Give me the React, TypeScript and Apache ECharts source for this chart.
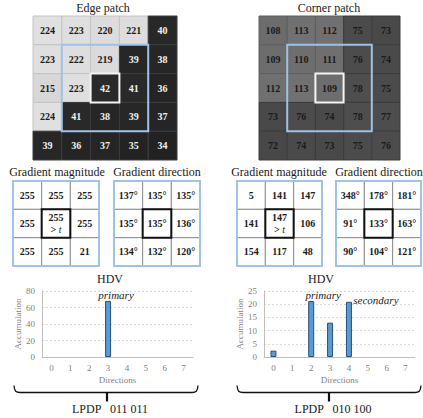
import React, { useEffect, useRef } from "react";
import * as echarts from "echarts";

// ---------- data ----------
const patchTitles = ["Edge patch", "Corner patch"];
const edgePatch = [
  [224, 223, 220, 221, 40],
  [223, 222, 219, 39, 38],
  [215, 223, 42, 41, 36],
  [224, 41, 38, 39, 37],
  [39, 36, 37, 35, 34],
];
const cornerPatch = [
  [108, 113, 112, 75, 73],
  [109, 110, 111, 76, 74],
  [112, 113, 109, 78, 75],
  [73, 76, 74, 78, 77],
  [72, 74, 73, 75, 76],
];
const tableTitles = ["Gradient magnitude", "Gradient direction"];
const edgeMagnitude = [
  [255, 255, 255],
  [255, 255, 255],
  [255, 255, 21],
];
const edgeDirection = [
  [137, 135, 135],
  [135, 135, 136],
  [134, 132, 120],
];
const cornerMagnitude = [
  [5, 141, 147],
  [141, 147, 106],
  [154, 117, 48],
];
const cornerDirection = [
  [348, 178, 181],
  [91, 133, 163],
  [90, 104, 121],
];
const directions = ["0", "1", "2", "3", "4", "5", "6", "7"];
const edgeHdv = [0, 0, 0, 68, 0, 0, 0, 0];
const cornerHdv = [2.4, 0, 21.2, 13, 20.9, 0, 0, 0];
const edgePeaks: Record<number, string> = { 3: "primary" };
const cornerPeaks: Record<number, string> = { 2: "primary", 4: "secondary" };
const hdvTitle = "HDV";
const yName = "Accumulation";
const xName = "Directions";
const lpdpCodes = ["011 011", "010 100"];
const edgeYMax = 80;
const edgeYStep = 20;
const cornerYMax = 25;
const cornerYStep = 5;

// ---------- layout ----------
const SERIF = "'Liberation Serif', 'DejaVu Serif', serif";
const patchGrids = [
  { left: 33, top: 16, width: 144, height: 144 },
  { left: 259, top: 16, width: 141, height: 144 },
];
const tableGrids = [
  { left: 13, top: 181, width: 86, height: 85 },
  { left: 114, top: 181, width: 86, height: 85 },
  { left: 237, top: 181, width: 85, height: 85 },
  { left: 336, top: 181, width: 85, height: 85 },
];
const barGrids = [
  { left: 42, top: 291, width: 151, height: 66 },
  { left: 264, top: 291, width: 151, height: 66 },
];

const toCells = (m: number[][]) =>
  m.flatMap((r, ri) => r.map((v, ci) => [ci, ri, v]));

const patchRender = (isEdge: boolean) => (params: any, api: any) => {
  const col = api.value(0);
  const row = api.value(1);
  const v = api.value(2);
  const c = api.coord([col, row]);
  const s = api.size([1, 1]);
  const w = s[0];
  const h = s[1];
  const children: any[] = [
    {
      type: "rect",
      shape: { x: c[0] - w / 2, y: c[1] - h / 2, width: w, height: h },
      style: {
        fill: `rgb(${v},${v},${v})`,
        stroke: v > 150 ? "#c4c4c4" : v > 90 ? "#5e5e5e" : "#3c3c3c",
        lineWidth: 1,
      },
    },
    {
      type: "text",
      style: {
        text: String(v),
        x: c[0],
        y: c[1],
        align: "center",
        verticalAlign: "middle",
        fill: isEdge && v < 128 ? "#f2f2f2" : "#1a1a1a",
        font: `bold 10px ${SERIF}`,
      },
    },
  ];
  if (col === 2 && row === 2) {
    children.push({
      type: "rect",
      z2: 30,
      shape: { x: c[0] - 1.5 * w, y: c[1] - 1.5 * h, width: 3 * w, height: 3 * h },
      style: { fill: "none", stroke: "#9dc3e6", lineWidth: 2 },
    });
    children.push({
      type: "rect",
      z2: 31,
      shape: { x: c[0] - w / 2, y: c[1] - h / 2, width: w, height: h },
      style: { fill: "none", stroke: "#f4f4f4", lineWidth: 2 },
    });
  }
  return { type: "group", children };
};

const tableRender = (isDir: boolean) => (params: any, api: any) => {
  const col = api.value(0);
  const row = api.value(1);
  const v = api.value(2);
  const c = api.coord([col, row]);
  const s = api.size([1, 1]);
  const w = s[0];
  const h = s[1];
  const center = col === 1 && row === 1;
  const children: any[] = [
    {
      type: "rect",
      shape: { x: c[0] - w / 2, y: c[1] - h / 2, width: w, height: h },
      style: { fill: "#ffffff", stroke: "#8c8c8c", lineWidth: 1 },
    },
  ];
  if (center && !isDir) {
    children.push({
      type: "text",
      style: {
        text: `{n|${v}}\n{n|> }{i|t}`,
        x: c[0],
        y: c[1],
        align: "center",
        verticalAlign: "middle",
        rich: {
          n: { font: `bold 10px ${SERIF}`, fill: "#1a1a1a", lineHeight: 12 },
          i: { font: `italic 10px ${SERIF}`, fill: "#1a1a1a", lineHeight: 12 },
        },
      },
    });
  } else {
    children.push({
      type: "text",
      style: {
        text: isDir ? `${v}°` : String(v),
        x: c[0],
        y: c[1],
        align: "center",
        verticalAlign: "middle",
        fill: "#1a1a1a",
        font: `bold 10px ${SERIF}`,
      },
    });
  }
  if (center) {
    children.push({
      type: "rect",
      z2: 30,
      shape: { x: c[0] - 1.5 * w, y: c[1] - 1.5 * h, width: 3 * w, height: 3 * h },
      style: { fill: "none", stroke: "#9dc3e6", lineWidth: 2 },
    });
    children.push({
      type: "rect",
      z2: 31,
      shape: { x: c[0] - w / 2, y: c[1] - h / 2, width: w, height: h },
      style: { fill: "none", stroke: "#111111", lineWidth: 2 },
    });
  }
  return { type: "group", children };
};

const hiddenCat = (gridIndex: number, n: number, inverse = false) => ({
  gridIndex,
  type: "category",
  data: Array.from({ length: n }, (_, i) => String(i)),
  show: false,
  inverse,
});

const barXAxis = (gridIndex: number) => ({
  gridIndex,
  type: "category",
  data: directions,
  axisLine: { show: true, lineStyle: { color: "#bfbfbf", width: 1 } },
  axisTick: { show: false },
  axisLabel: { color: "#7f7f7f", fontSize: 9, fontFamily: SERIF, margin: 6 },
  name: xName,
  nameLocation: "middle",
  nameGap: 18,
  nameTextStyle: { color: "#7f7f7f", fontSize: 9, fontFamily: SERIF },
});

const barYAxis = (gridIndex: number, max: number, step: number) => ({
  gridIndex,
  type: "value",
  min: 0,
  max,
  interval: step,
  axisLine: { show: true, lineStyle: { color: "#bfbfbf", width: 1 } },
  axisTick: { show: false },
  axisLabel: { color: "#7f7f7f", fontSize: 9, fontFamily: SERIF, margin: 7 },
  splitLine: { show: true, lineStyle: { color: "#d9d9d9", type: [2, 2], width: 1 } },
  name: yName,
  nameLocation: "middle",
  nameGap: 20,
  nameTextStyle: { color: "#7f7f7f", fontSize: 9, fontFamily: SERIF },
});

const barData = (vals: number[], peaks: Record<number, string>, offsets: Record<number, number[]>) =>
  vals.map((v, i) => {
    const item: any = { value: v };
    if (v === 0) item.itemStyle = { borderWidth: 0 };
    if (peaks[i]) {
      item.label = {
        show: true,
        position: "top",
        distance: 1,
        formatter: peaks[i],
        offset: offsets[i] || [0, 0],
        fontFamily: SERIF,
        fontStyle: "italic",
        fontSize: 11,
        color: "#222",
      };
    }
    return item;
  });

const bracket = (x0: number, x1: number, xc: number, y: number) => [
  {
    type: "bezierCurve",
    shape: { x1: x0, y1: y - 7, cpx1: x0 + 0.5, cpy1: y - 1, cpx2: x0 + 2, cpy2: y, x2: x0 + 6, y2: y },
    style: { stroke: "#111", lineWidth: 1.3, fill: "none" },
  },
  {
    type: "line",
    shape: { x1: x0 + 6, y1: y, x2: x1 - 6, y2: y },
    style: { stroke: "#111", lineWidth: 1.3 },
  },
  {
    type: "bezierCurve",
    shape: { x1: x1, y1: y - 7, cpx1: x1 - 0.5, cpy1: y - 1, cpx2: x1 - 2, cpy2: y, x2: x1 - 6, y2: y },
    style: { stroke: "#111", lineWidth: 1.3, fill: "none" },
  },
  {
    type: "line",
    shape: { x1: xc, y1: y, x2: xc, y2: y + 9 },
    style: { stroke: "#111", lineWidth: 2.2 },
  },
];

const label = (text: string, x: number, y: number, size: number, italic = false) => ({
  type: "text",
  style: {
    text,
    x,
    y,
    align: "center",
    verticalAlign: "middle",
    font: `${italic ? "italic " : ""}${size}px ${SERIF}`,
    fill: "#1a1a1a",
  },
});

export default function App() {
  const ref = useRef<HTMLDivElement>(null);
  useEffect(() => {
    const chart = echarts.init(ref.current!, null, { renderer: "svg" });
    const tables = [edgeMagnitude, edgeDirection, cornerMagnitude, cornerDirection];
    const option: any = {
      animation: false,
      backgroundColor: "#ffffff",
      grid: [...patchGrids, ...tableGrids, ...barGrids],
      xAxis: [
        hiddenCat(0, 5),
        hiddenCat(1, 5),
        hiddenCat(2, 3),
        hiddenCat(3, 3),
        hiddenCat(4, 3),
        hiddenCat(5, 3),
        barXAxis(6),
        barXAxis(7),
      ],
      yAxis: [
        hiddenCat(0, 5, true),
        hiddenCat(1, 5, true),
        hiddenCat(2, 3, true),
        hiddenCat(3, 3, true),
        hiddenCat(4, 3, true),
        hiddenCat(5, 3, true),
        barYAxis(6, edgeYMax, edgeYStep),
        barYAxis(7, cornerYMax, cornerYStep),
      ],
      series: [
        {
          type: "custom",
          xAxisIndex: 0,
          yAxisIndex: 0,
          data: toCells(edgePatch),
          renderItem: patchRender(true),
        },
        {
          type: "custom",
          xAxisIndex: 1,
          yAxisIndex: 1,
          data: toCells(cornerPatch),
          renderItem: patchRender(false),
        },
        ...tables.map((t, i) => ({
          type: "custom",
          xAxisIndex: 2 + i,
          yAxisIndex: 2 + i,
          data: toCells(t),
          renderItem: tableRender(i % 2 === 1),
        })),
        {
          type: "bar",
          xAxisIndex: 6,
          yAxisIndex: 6,
          barWidth: 6,
          data: barData(edgeHdv, edgePeaks, { 3: [8, 1] }),
          itemStyle: { color: "#5b9bd5", borderColor: "#2a4d78", borderWidth: 1 },
        },
        {
          type: "bar",
          xAxisIndex: 7,
          yAxisIndex: 7,
          barWidth: 6,
          data: barData(cornerHdv, cornerPeaks, { 2: [12, 0], 4: [27, 5] }),
          itemStyle: { color: "#5b9bd5", borderColor: "#2a4d78", borderWidth: 1 },
        },
      ],
      graphic: [
        label(patchTitles[0], 103, 8, 12),
        label(patchTitles[1], 329, 8, 12),
        label(tableTitles[0], 57, 172, 12),
        label(tableTitles[1], 157, 172, 12),
        label(tableTitles[0], 279, 172, 12),
        label(tableTitles[1], 379, 172, 12),
        label(hdvTitle, 110, 279, 12),
        label(hdvTitle, 321, 279, 12),
        ...bracket(14, 198, 107, 392.5),
        ...bracket(237, 421, 329, 392.5),
        label(`LPDP   ${lpdpCodes[0]}`, 110, 409, 12),
        label(`LPDP   ${lpdpCodes[1]}`, 333, 409, 12),
      ],
    };
    chart.setOption(option);
    return () => chart.dispose();
  }, []);
  return (
    <div
      ref={ref}
      style={{ position: "fixed", left: 0, top: 0, width: 423, height: 418, background: "#fff" }}
    />
  );
}
